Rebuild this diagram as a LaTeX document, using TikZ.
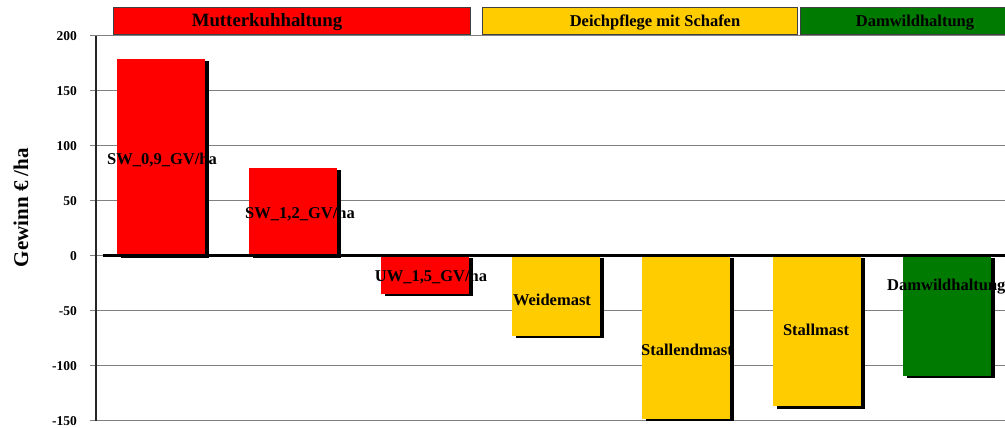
\documentclass[tikz,border=0pt]{standalone}
\usepackage{fontspec}
\setmainfont{Liberation Serif}
\usetikzlibrary{positioning}
\definecolor{cowred}{HTML}{FF0000}
\definecolor{dikeyellow}{HTML}{FFCC00}
\definecolor{deergreen}{HTML}{007A00}
\definecolor{gridgray}{HTML}{808080}
\tikzset{
  every picture/.style={line cap=butt, line join=miter, font=\bfseries},
  gridline/.style={gridgray, line width=1.4pt},
  ticklabel/.style={font=\fontsize{13.5}{15}\selectfont\bfseries, anchor=east, inner sep=0pt},
  barlabel/.style={font=\fontsize{16.5}{18}\selectfont\bfseries, inner sep=0pt},
  headlabel/.style={font=\fontsize{16.5}{18}\selectfont\bfseries, inner sep=0pt, anchor=base},
  headbox/.style={draw=black!75, line width=1pt},
  % bar shadow, shifted right and down
  barshadow/.style={fill=black},
}

\begin{document}
\begin{tikzpicture}[x=1pt, y=1.1pt]
  \useasboundingbox (0,-155.7) rectangle (1005,232.5);
  % ---------- grid and value axis
  \foreach \v in {-150,-100,-50,50,100,150,200}{
    \draw[gridline] (90,\v) -- (1005,\v);
    \node[ticklabel] (t\v) at (77,\v) {\v};
  }
  \draw[gridline] (90,0) -- (103,0);
  \node[ticklabel] (t0) at (77,0) {0};
  \draw[black!85, line width=1.2pt] (96,-150) -- (96,200);
  \node[rotate=90, font=\fontsize{21}{24}\selectfont\bfseries] (ytitle) at (21,43.8) {Gewinn € /ha};
  % ---------- bars: left edge / value / colour (width 88)
  \foreach \x/\v/\col in {117/179/cowred, 249/80/cowred, 381/-35/cowred,
      512/-73/dikeyellow, 642/-148/dikeyellow, 773/-137/dikeyellow, 903/-109/deergreen}{
    \fill[barshadow] (\x+3.5,-2) rectangle (\x+91.5,\v-2);
    \fill[\col] (\x,0) rectangle (\x+88,\v);
  }
  \draw[black, line width=3pt] (103,0) -- (1005,0);
  % ---------- bar labels
  \node[barlabel] (sw09) at (162,87) {SW\_0,9\_GV/ha};
  \node[barlabel] (sw12) at (300,38) {SW\_1,2\_GV/ha};
  \node[barlabel] (uw15) at (431,-19.3) {UW\_1,5\_GV/ha};
  \node[barlabel] (weide) at (552,-40.2) {Weidemast};
  \node[barlabel] (stallend) at (687,-85.6) {Stallendmast};
  \node[barlabel] (stall) at (816,-67.4) {Stallmast};
  \node[barlabel, anchor=west] (damwild) at (887,-28.3) {Damwildhaltung};
  % ---------- group headers
  \draw[headbox, fill=cowred] (113,201.1) rectangle (470,225.6);
  \draw[headbox, fill=dikeyellow] (482,201.1) rectangle (797,225.6);
  \draw[headbox, fill=deergreen] (800,201.1) rectangle (1012,225.6);
  \node[headlabel, font=\fontsize{18.8}{20}\selectfont\bfseries] (hcow) at (267,208.2) {Mutterkuhhaltung};
  \node[headlabel] (hdike) at (655,208.6) {Deichpflege mit Schafen};
  \node[headlabel] (hdeer) at (915,208.6) {Damwildhaltung};
\end{tikzpicture}
\end{document}
